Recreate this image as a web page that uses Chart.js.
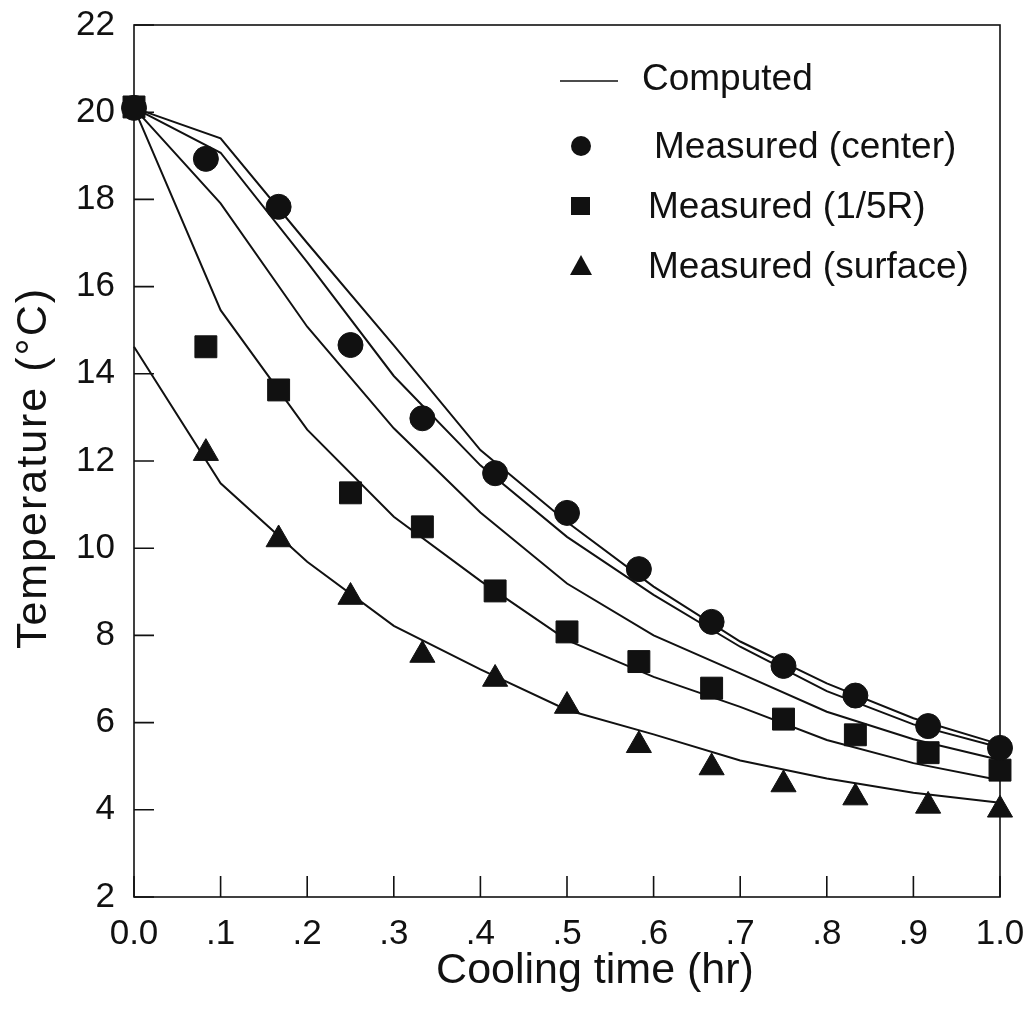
<!DOCTYPE html>
<html><head><meta charset="utf-8">
<script src="https://cdn.jsdelivr.net/npm/chart.js@4.4.0/dist/chart.umd.min.js"></script>
<style>html,body{margin:0;padding:0;background:#fff}#wrap{width:1033px;height:1018px}</style>
</head><body><div id="wrap"><canvas id="c" width="1033" height="1018"></canvas></div>
<script>
// ---------- data ----------
const xTickLabels = ["0.0", ".1", ".2", ".3", ".4", ".5", ".6", ".7", ".8", ".9", "1.0"];
const measTime   = [0, 0.083, 0.167, 0.25, 0.333, 0.417, 0.5, 0.583, 0.667, 0.75, 0.833, 0.917, 1.0];
const centerMeas = [20.1, 18.93, 17.83, 14.66, 12.98, 11.72, 10.81, 9.52, 8.31, 7.30, 6.62, 5.92, 5.42];
const r5Meas     = [20.12, 14.62, 13.63, 11.27, 10.49, 9.02, 8.08, 7.40, 6.79, 6.08, 5.72, 5.31, 4.91];
const surfMeas   = [null, 12.18, 10.2, 8.88, 7.55, 7.0, 6.38, 5.48, 4.97, 4.58, 4.28, 4.09, 4.0];
const compTime   = [0, 0.1, 0.2, 0.3, 0.4, 0.5, 0.6, 0.7, 0.8, 0.9, 1.0];
const compA      = [20.1, 19.40, 17.0, 14.65, 12.25, 10.6, 9.12, 7.86, 6.9, 6.1, 5.5];
const compB      = [20.1, 19.07, 16.56, 13.95, 11.9, 10.26, 8.93, 7.74, 6.72, 5.96, 5.43];
const compC      = [20.1, 17.91, 15.08, 12.75, 10.82, 9.19, 8.0, 7.13, 6.25, 5.62, 5.14];
const compD      = [20.1, 15.46, 12.72, 10.72, 9.25, 7.89, 7.05, 6.36, 5.6, 5.07, 4.68];
const compE      = [14.62, 11.49, 9.69, 8.22, 7.22, 6.29, 5.73, 5.13, 4.72, 4.39, 4.16];
const legendLabels = ["Computed", "Measured (center)", "Measured (1/5R)", "Measured (surface)"];
const xTitle = "Cooling time (hr)";
const yTitle = "Temperature (\u00B0C)";

const FONT = "'Liberation Sans', Arial, Helvetica, sans-serif";
const INK = '#111';
const pts = (xs, ys) => xs.map((x, i) => ({x: x, y: ys[i]})).filter(p => p.y !== null);

const lineDs = (ys) => ({
  type: 'line', data: pts(compTime, ys), borderColor: INK, borderWidth: 2,
  pointRadius: 0, tension: 0, fill: false, order: 2, clip: false
});
const markDs = (ys, style, r) => ({
  type: 'scatter', data: pts(measTime, ys), showLine: false,
  pointStyle: style, pointRadius: r, pointHoverRadius: r,
  backgroundColor: INK, borderColor: INK, borderWidth: 1, order: 1, clip: false
});

const framePlugin = {
  id: 'frame',
  beforeDatasetsDraw(chart) {
    const {ctx, chartArea: a, scales: {x, y}} = chart;
    ctx.save();
    ctx.strokeStyle = INK; ctx.lineWidth = 1.6;
    ctx.strokeRect(a.left, a.top, a.right - a.left, a.bottom - a.top);
    ctx.beginPath();
    y.ticks.forEach(t => { const py = y.getPixelForValue(t.value); ctx.moveTo(a.left, py); ctx.lineTo(a.left + 20, py); });
    x.ticks.forEach(t => { const px = x.getPixelForValue(t.value); ctx.moveTo(px, a.bottom); ctx.lineTo(px, a.bottom - 21); });
    ctx.stroke();
    // axis titles
    ctx.fillStyle = INK;
    ctx.font = '43px ' + FONT;
    ctx.textAlign = 'center'; ctx.textBaseline = 'middle';
    ctx.fillText(xTitle, 595, 971);
    ctx.save();
    ctx.translate(34, 468);
    ctx.rotate(-Math.PI / 2);
    try { ctx.letterSpacing = '2px'; } catch (e) {}
    ctx.fillText(yTitle, 0, 0);
    ctx.restore();
    ctx.restore();
  },
  afterDatasetsDraw(chart) {
    const ctx = chart.ctx;
    ctx.save();
    ctx.fillStyle = INK; ctx.strokeStyle = INK;
    ctx.font = '37px ' + FONT;
    ctx.textBaseline = 'middle'; ctx.textAlign = 'left';
    ctx.lineWidth = 1.5;
    ctx.beginPath(); ctx.moveTo(560, 81); ctx.lineTo(618, 81); ctx.stroke();
    ctx.fillText(legendLabels[0], 642, 80);
    ctx.beginPath(); ctx.arc(581, 146, 10, 0, Math.PI * 2); ctx.fill();
    ctx.fillText(legendLabels[1], 654, 148);
    ctx.fillRect(571, 197, 19, 18);
    ctx.fillText(legendLabels[2], 648, 208);
    ctx.beginPath(); ctx.moveTo(581, 255); ctx.lineTo(592, 275); ctx.lineTo(570, 275); ctx.closePath(); ctx.fill();
    ctx.fillText(legendLabels[3], 648, 268);
    ctx.restore();
  }
};

const zeroPad = s => { s.paddingTop = 0; s.paddingBottom = 0; s.paddingLeft = 0; s.paddingRight = 0; };

new Chart(document.getElementById('c'), {
  data: {
    datasets: [
      lineDs(compA), lineDs(compB), lineDs(compC), lineDs(compD), lineDs(compE),
      markDs(centerMeas, 'circle', 12.5),
      markDs(r5Meas, 'rect', 15.5),
      markDs(surfMeas, 'triangle', 14.5)
    ]
  },
  options: {
    responsive: false, animation: false, devicePixelRatio: 1,
    layout: {padding: {top: 25, right: 33, left: 0, bottom: 0}},
    plugins: {legend: {display: false}, tooltip: {enabled: false}},
    scales: {
      x: {
        type: 'linear', position: 'bottom', min: 0, max: 1,
        grid: {display: false, drawTicks: false},
        border: {display: false},
        ticks: {stepSize: 0.1, color: INK, font: {family: FONT, size: 35}, padding: 16,
                maxRotation: 0, autoSkip: false,
                callback: (v, i) => xTickLabels[i]},
        title: {display: false},
        afterFit: s => { s.height = 121; zeroPad(s); }
      },
      y: {
        type: 'linear', position: 'left', min: 2, max: 22,
        grid: {display: false, drawTicks: false},
        border: {display: false},
        ticks: {stepSize: 2, color: INK, font: {family: FONT, size: 35}, padding: 19},
        title: {display: false},
        afterFit: s => { s.width = 134; zeroPad(s); }
      }
    }
  },
  plugins: [framePlugin]
});
</script>
</body></html>
